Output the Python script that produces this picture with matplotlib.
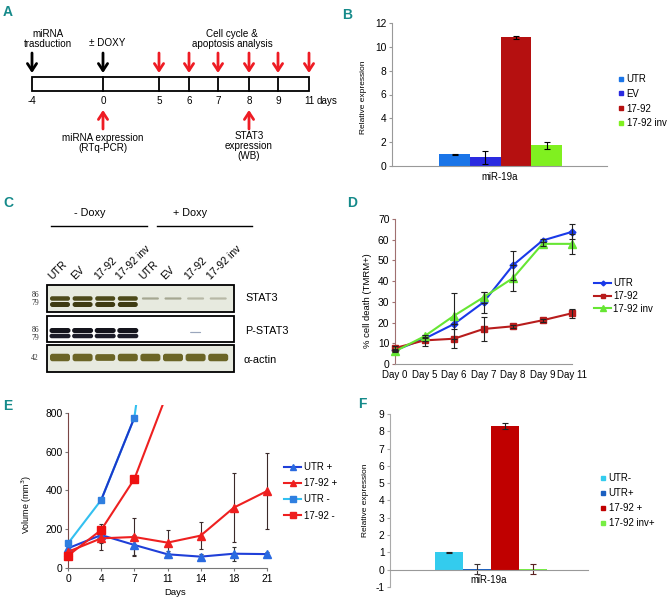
import matplotlib
matplotlib.use('Agg')
import matplotlib.pyplot as plt
from matplotlib.patches import Rectangle, FancyBboxPatch
from matplotlib.lines import Line2D
import numpy as np

plt.rcParams['font.family'] = ['Liberation Sans', 'DejaVu Sans']
plt.rcParams['axes.unicode_minus'] = False

# ================= DATA =================
# Panel A (timeline schematic)
timeline_days = [-4, 0, 5, 6, 7, 8, 9, 11]
black_arrow_days = [-4, 0]
red_down_days = [5, 6, 7, 8, 9, 11]
red_up_days = [0, 8]

# Panel B
b_groups = ['UTR', 'EV', '17-92', '17-92 inv']
b_values = [0.97, 0.75, 10.8, 1.75]
b_errors = [0.05, 0.55, 0.15, 0.3]
b_category = 'miR-19a'

# Panel C (western blot band intensities, 0..1)
c_lanes = ['UTR', 'EV', '17-92', '17-92 inv', 'UTR', 'EV', '17-92', '17-92 inv']
c_stat3 = [1, 1, 1, 1, 0.3, 0.3, 0.22, 0.22]
c_pstat3 = [1, 1, 1, 1, 0, 0, 0.15, 0]
c_actin = [1, 1, 0.9, 1, 1, 1, 1, 1]

# Panel D
d_days = ['Day 0', 'Day 5', 'Day 6', 'Day 7', 'Day 8', 'Day 9', 'Day 11']
d_utr = [6.6, 12.2, 19.3, 29.8, 47.7, 59.6, 63.8]
d_utr_err = [0.5, 1.0, 0.0, 5.0, 7.0, 0.8, 3.6]
d_1792 = [7.7, 11.4, 12.2, 16.9, 18.2, 21.1, 24.5]
d_1792_err = [1.0, 2.8, 4.6, 5.8, 0.8, 0.8, 2.2]
d_inv = [6.1, 13.4, 23.3, 32.2, 41.5, 58.0, 58.0]
d_inv_err = [0.5, 0.8, 11.0, 2.7, 6.3, 0.8, 4.9]

# Panel E
e_days = ['0', '4', '7', '11', '14', '18', '21']
e_utr_p = [103, 171, 120, 72, 60, 75, 73]
e_utr_p_err = [0, 40, 50, 17, 15, 36, 12]
e_1792_p = [85, 154, 161, 132, 168, 312, 397]
e_1792_p_err = [0, 60, 96, 65, 68, 176, 195]
e_utr_m = [128, 351, 774, 2000]
e_1792_m = [65, 197, 459, 905]
e_1792_m_err = [0, 30, 0, 0]

# Panel F
f_groups = ['UTR-', 'UTR+', '17-92 +', '17-92 inv+']
f_values = [1.0, 0.05, 8.3, 0.05]
f_errors = [0.04, 0.28, 0.18, 0.3]
f_category = 'miR-19a'

# ================= FIGURE =================
W, H = 671, 599
fig = plt.figure(figsize=(W / 100, H / 100), dpi=100)
TEAL = '#158a8a'
FS_TICK = 7.4
FS_LEG = 6.9
FS_TXT = 7.1


def px_axes(x0, x1, y0, y1):
    return fig.add_axes([x0 / W, 1 - y1 / H, (x1 - x0) / W, (y1 - y0) / H])


# overlay in pixel coordinates for schematic panels
ov = fig.add_axes([0, 0, 1, 1])
ov.set_xlim(0, W)
ov.set_ylim(H, 0)
ov.axis('off')
ov.patch.set_alpha(0)

# panel letters
for letter, (lx, ly) in {'A': (3, 12), 'B': (342, 15), 'C': (3, 203),
                          'D': (347, 203), 'E': (3, 406), 'F': (358, 404)}.items():
    ov.text(lx, ly, letter, color=TEAL, fontsize=10, fontweight='bold',
            ha='left', va='center')

# ---------- Panel A ----------
day_x = dict(zip(timeline_days, [32, 103, 159, 189, 218, 249, 278, 309]))
box_top, box_bot = 77, 91
ov.add_patch(Rectangle((day_x[-4], box_top), day_x[11] - day_x[-4], box_bot - box_top,
                       fill=False, ec='black', lw=1.3))
for d in timeline_days[1:-1]:
    ov.plot([day_x[d]] * 2, [box_top, box_bot], color='black', lw=1.3)
for d in timeline_days:
    ov.text(day_x[d], 101, str(d), ha='center', va='center', fontsize=FS_TXT)
ov.text(327, 101, 'days', ha='center', va='center', fontsize=FS_TXT)


def arrow(x, y_from, y_to, color):
    ov.annotate('', xy=(x, y_to), xytext=(x, y_from),
                arrowprops=dict(arrowstyle='->,head_length=0.5,head_width=0.33',
                                color=color, lw=2.0, shrinkA=0, shrinkB=0))


for d in black_arrow_days:
    arrow(day_x[d], 53, 73, 'black')
for d in red_down_days:
    arrow(day_x[d], 53, 73, '#ee1c24')
for d in red_up_days:
    arrow(day_x[d], 129, 110, '#ee1c24')

ov.text(48, 39, 'miRNA\ntrasduction', ha='center', va='center', fontsize=FS_TXT, linespacing=1.05)
ov.text(107, 43, '± DOXY', ha='center', va='center', fontsize=FS_TXT)
ov.text(232, 39, 'Cell cycle &\napoptosis analysis', ha='center', va='center',
        fontsize=FS_TXT, linespacing=1.05)
ov.text(103, 143, 'miRNA expression\n(RTq-PCR)', ha='center', va='center', fontsize=FS_TXT,
        linespacing=1.05)
ov.text(249, 146, 'STAT3\nexpression\n(WB)', ha='center', va='center', fontsize=FS_TXT,
        linespacing=1.05)

# ---------- Panel B ----------
axB = px_axes(392, 607, 23, 166)
b_colors = ['#1a75e8', '#2a2ae0', '#b51010', '#80f020']
bw = 0.285
for i, (v, e, c) in enumerate(zip(b_values, b_errors, b_colors)):
    x = (i - 1.5) * bw + 0.01
    axB.bar(x, v, width=bw, color=c, label=b_groups[i])
    axB.errorbar(x, v, yerr=e, color='black', lw=0.8, capsize=2, capthick=0.8)
axB.set_xlim(-1, 1)
axB.set_ylim(0, 12)
axB.set_yticks(range(0, 13, 2))
axB.set_xticks([0])
axB.set_xticklabels([b_category])
for s in ['top', 'right']:
    axB.spines[s].set_visible(False)
axB.spines['left'].set_color('#999999')
axB.spines['bottom'].set_color('#999999')
axB.tick_params(axis='y', length=2, labelsize=FS_TICK, color='#999999', pad=2)
axB.tick_params(axis='x', length=0, labelsize=FS_LEG, pad=4)
axB.set_ylabel('Relative expression', fontsize=6.0)
axB.yaxis.set_label_coords(-0.116, 0.48)
hB = [Line2D([], [], marker='s', ls='none', color=c, markersize=3.5) for c in b_colors]
fig.legend(hB, b_groups, loc='upper left', bbox_to_anchor=(617 / W, 1 - 74 / H),
           frameon=False, fontsize=FS_LEG, handlelength=0.8, handletextpad=0.2,
           labelspacing=0.5, borderpad=0, borderaxespad=0)

# ---------- Panel C ----------
lane_x = [60 + i * 22.6 for i in range(len(c_lanes))]
for x, lab in zip(lane_x, c_lanes):
    ov.text(x - 6, 281, lab, rotation=45, ha='left', va='bottom', rotation_mode='anchor',
            fontsize=7.6)
ov.text(90, 213, '- Doxy', ha='center', va='center', fontsize=7.8)
ov.text(190, 213, '+ Doxy', ha='center', va='center', fontsize=7.8)
ov.plot([51, 147], [226, 226], color='black', lw=1)
ov.plot([157, 252], [226, 226], color='black', lw=1)

blot_x0, blot_x1 = 47, 234
boxes = {'STAT3': (285, 312, '#e7eadf'), 'P-STAT3': (316, 342, '#ffffff'),
         'actin': (345, 372, '#e7eadf')}
for name, (y0, y1, bg) in boxes.items():
    ov.add_patch(Rectangle((blot_x0, y0), blot_x1 - blot_x0, y1 - y0, fc=bg, ec='black',
                           lw=1.3, zorder=2))


def band(x, yc, h, w, color, alpha=1.0):
    ov.add_patch(FancyBboxPatch((x - w / 2, yc - h / 2), w, h,
                                boxstyle='round,pad=0,rounding_size=%.1f' % min(h / 2, 2.5),
                                fc=color, ec='none', alpha=alpha, zorder=3))


for x, s in zip(lane_x, c_stat3):
    if s >= 0.9:
        band(x, 298.5, 4.5, 20, '#4d4a1a')
        band(x, 304.5, 5.0, 20, '#3e3b12')
    elif s > 0:
        band(x, 298.5, 2.2, 17, '#6e6e50', alpha=s * 1.8)
for x, s in zip(lane_x, c_pstat3):
    if s >= 0.9:
        band(x, 330.5, 5.0, 21, '#14141c')
        band(x, 336.0, 4.5, 21, '#1c1c28')
    elif s > 0:
        band(x, 332.5, 1.2, 11, '#7080a0', alpha=0.7)
for x, s in zip(lane_x, c_actin):
    band(x, 357.5, 7.5 * s, 20, '#6b6526')

for txt, y in [('86', 295), ('79', 303), ('86', 330), ('79', 338), ('42', 358)]:
    ov.text(39, y, txt, ha='right', va='center', fontsize=5.5, family='Liberation Serif',
            color='#333333')
ov.text(245, 298, 'STAT3', ha='left', va='center', fontsize=7.8)
ov.text(245, 331, 'P-STAT3', ha='left', va='center', fontsize=7.8)
ov.text(244, 360, 'α-actin', ha='left', va='center', fontsize=7.8)

# ---------- Panel D ----------
axD = px_axes(395, 572, 219, 364)
xd = np.arange(len(d_days))
d_series = [
    (d_utr, d_utr_err, '#1a3ae8', 'D', 3.5, 'UTR'),
    (d_1792, d_1792_err, '#b81c1c', 's', 5, '17-92'),
    (d_inv, d_inv_err, '#66e633', '^', 5.5, '17-92 inv'),
]
hD = []
for vals, errs, col, mk, ms, lab in d_series:
    axD.plot(xd, vals, color=col, lw=1.5, marker=mk, markersize=ms, clip_on=False, zorder=3)
    axD.errorbar(xd, vals, yerr=errs, fmt='none', ecolor='#222222', elinewidth=0.8,
                 capsize=2, capthick=0.8, clip_on=False, zorder=4)
    hD.append(Line2D([], [], color=col, lw=1.5, marker=mk, markersize=ms * 0.7))
axD.set_xlim(0, len(d_days) - 1)
axD.set_ylim(0, 70)
axD.set_yticks(range(0, 71, 10))
axD.set_xticks(xd)
axD.set_xticklabels(d_days)
for s in ['top', 'right']:
    axD.spines[s].set_visible(False)
axD.spines['left'].set_color('#a07070')
axD.spines['bottom'].set_color('#999999')
axD.tick_params(axis='y', length=2, labelsize=FS_TICK, pad=2, color='#a07070')
axD.tick_params(axis='x', length=0, labelsize=7.0, pad=4)
axD.set_ylabel('% cell death (TMRM+)', fontsize=6.8)
axD.yaxis.set_label_coords(-0.13, 0.44)
fig.legend(hD, [s[5] for s in d_series], loc='upper left',
           bbox_to_anchor=(594 / W, 1 - 278 / H), frameon=False, fontsize=FS_LEG,
           handlelength=1.8, handletextpad=0.2, labelspacing=0.3, borderpad=0,
           borderaxespad=0)

# ---------- Panel E ----------
axE = px_axes(68, 267, 404.9, 568.3)
xe = np.arange(len(e_days))
clip = Rectangle((-0.05, 0), 1.1, 1.0, transform=axE.transAxes)
col_up, col_red, col_cyan, col_sq = '#1f3fd8', '#ee2020', '#33c0f0', '#2f7fe0'
nm = len(e_utr_m)
arts = []
arts += axE.plot(xe, e_utr_p, color=col_up, lw=1.5, marker='^', markersize=5.5,
                 mfc='#2a6ae0', mec='#2a6ae0', zorder=3)
arts += axE.plot(xe, e_1792_p, color=col_red, lw=1.5, marker='^', markersize=5.5, zorder=4)
arts += axE.plot(xe[:nm], e_utr_m, color=col_cyan, lw=1.5, zorder=3)
arts += axE.plot(xe[1:nm - 1], e_utr_m[1:nm - 1], color='#1a3acc', lw=1.5, zorder=3)
arts += axE.plot(xe[:nm], e_utr_m, color='none', marker='s', markersize=5,
                 mfc=col_sq, mec=col_sq, zorder=5)
arts += axE.plot(xe[:nm], e_1792_m, color=col_red, lw=1.5, marker='s', markersize=6,
                 mfc='#ee1111', mec='#ee1111', zorder=5)
for a in arts:
    a.set_clip_path(clip)
for vals, errs, ec in [(e_utr_p, e_utr_p_err, '#333333'),
                       (e_1792_p, e_1792_p_err, '#3a2a2a'),
                       (e_1792_m, e_1792_m_err, '#333333')]:
    n = len(vals)
    eb = axE.errorbar(xe[:n], vals, yerr=errs, fmt='none', ecolor=ec, elinewidth=0.8,
                      capsize=1.5, capthick=0.8, zorder=2)
    for c in eb.get_children():
        c.set_clip_path(clip)
axE.set_xlim(0, len(e_days) - 1)
axE.set_ylim(0, 840)
axE.set_yticks(range(0, 801, 200))
axE.set_xticks(xe)
axE.set_xticklabels(e_days)
for s in ['top', 'right']:
    axE.spines[s].set_visible(False)
axE.spines['left'].set_bounds(0, 800)
axE.spines['left'].set_color('#7a4545')
axE.spines['bottom'].set_color('#777777')
axE.tick_params(axis='both', length=2, labelsize=FS_TICK, pad=2, color='#777777')
axE.set_ylabel('Volume (mm$^3$)', fontsize=6.4)
axE.yaxis.set_label_coords(-0.17, 0.39)
axE.set_xlabel('Days', fontsize=6.8)
axE.xaxis.set_label_coords(0.54, -0.12)
hE = [Line2D([], [], color=col_up, lw=1.5, marker='^', markersize=4, mfc='#2a6ae0', mec='#2a6ae0'),
      Line2D([], [], color=col_red, lw=1.5, marker='^', markersize=4),
      Line2D([], [], color=col_cyan, lw=1.5, marker='s', markersize=4, mfc=col_sq, mec=col_sq),
      Line2D([], [], color=col_red, lw=1.5, marker='s', markersize=4.5)]
fig.legend(hE, ['UTR +', '17-92 +', 'UTR -', '17-92 -'], loc='upper left',
           bbox_to_anchor=(284 / W, 1 - 462 / H), frameon=False, fontsize=FS_LEG,
           handlelength=1.8, handletextpad=0.25, labelspacing=0.65, borderpad=0,
           borderaxespad=0)

# ---------- Panel F ----------
axF = px_axes(390, 588, 414, 587)
f_colors = ['#33ccee', '#1a5fc0', '#c00000', '#77ee44']
f_ecolors = ['#222222', '#3a3030', '#222222', '#5a2020']
bwf = 0.285
for i, (v, e, c, ec) in enumerate(zip(f_values, f_errors, f_colors, f_ecolors)):
    x = (i - 1.5) * bwf + 0.02
    axF.bar(x, v, width=bwf, color=c)
    axF.errorbar(x, v, yerr=e, color=ec, lw=0.8, capsize=2, capthick=0.8)
axF.set_xlim(-1, 1)
axF.set_ylim(-1, 9)
axF.set_yticks(range(-1, 10))
axF.set_xticks([0])
axF.set_xticklabels([f_category])
for s in ['top', 'right']:
    axF.spines[s].set_visible(False)
axF.spines['bottom'].set_position(('data', 0))
axF.spines['left'].set_color('#aaaaaa')
axF.spines['bottom'].set_color('#999999')
axF.tick_params(axis='y', length=2, labelsize=FS_TICK, pad=2, color='#aaaaaa')
axF.tick_params(axis='x', length=0, labelsize=FS_LEG, pad=4)
axF.set_ylabel('Relative expression', fontsize=6.0)
axF.yaxis.set_label_coords(-0.106, 0.5)
hF = [Line2D([], [], marker='s', ls='none', color=c, markersize=3.5) for c in f_colors]
fig.legend(hF, f_groups, loc='upper left', bbox_to_anchor=(599 / W, 1 - 473 / H),
           frameon=False, fontsize=FS_LEG, handlelength=0.8, handletextpad=0.2,
           labelspacing=0.52, borderpad=0, borderaxespad=0)

fig.savefig('out.png', dpi=100)
